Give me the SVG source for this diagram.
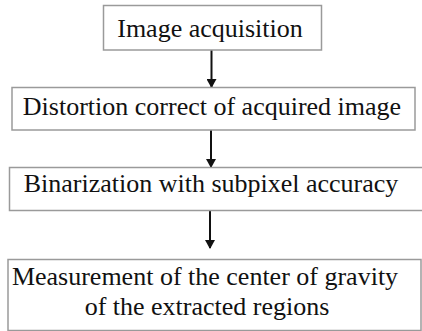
<svg xmlns="http://www.w3.org/2000/svg" width="422" height="331" viewBox="0 0 422 331">
<style>
.box{fill:#fff;stroke:#9a9a9a;stroke-width:1.5}
.t{font-family:"Liberation Serif","Times New Roman",serif;font-size:26px;fill:#111;text-anchor:middle}
.c{stroke:#111;stroke-width:2;fill:none}
</style>
<defs>
<marker id="ah" markerWidth="10" markerHeight="10" refX="8" refY="5" orient="auto" markerUnits="userSpaceOnUse">
<path d="M0,0 L9,5 L0,10 Z" fill="#111"/>
</marker>
</defs>
<rect width="422" height="331" fill="#fff"/>
<g id="connectors">
<line class="c" x1="211.5" y1="50" x2="211.5" y2="87" marker-end="url(#ah)"/>
<line class="c" x1="211" y1="130" x2="211" y2="167" marker-end="url(#ah)"/>
<line class="c" x1="210" y1="211" x2="210" y2="248" marker-end="url(#ah)"/>
</g>
<g id="n1">
<rect class="box" x="103.5" y="5.5" width="218" height="44.5"/>
<text class="t" x="210" y="37">Image acquisition</text>
</g>
<g id="n2">
<rect class="box" x="12" y="87.5" width="403" height="42.5"/>
<text class="t" x="212" y="115">Distortion correct of acquired image</text>
</g>
<g id="n3">
<rect class="box" x="9.5" y="167.5" width="416" height="43"/>
<text class="t" x="211" y="192">Binarization with subpixel accuracy</text>
</g>
<g id="n4">
<rect class="box" x="8" y="259.5" width="413" height="71"/>
<text class="t" x="205" y="285">Measurement of the center of gravity</text>
<text class="t" x="207" y="315">of the extracted regions</text>
</g>
</svg>
